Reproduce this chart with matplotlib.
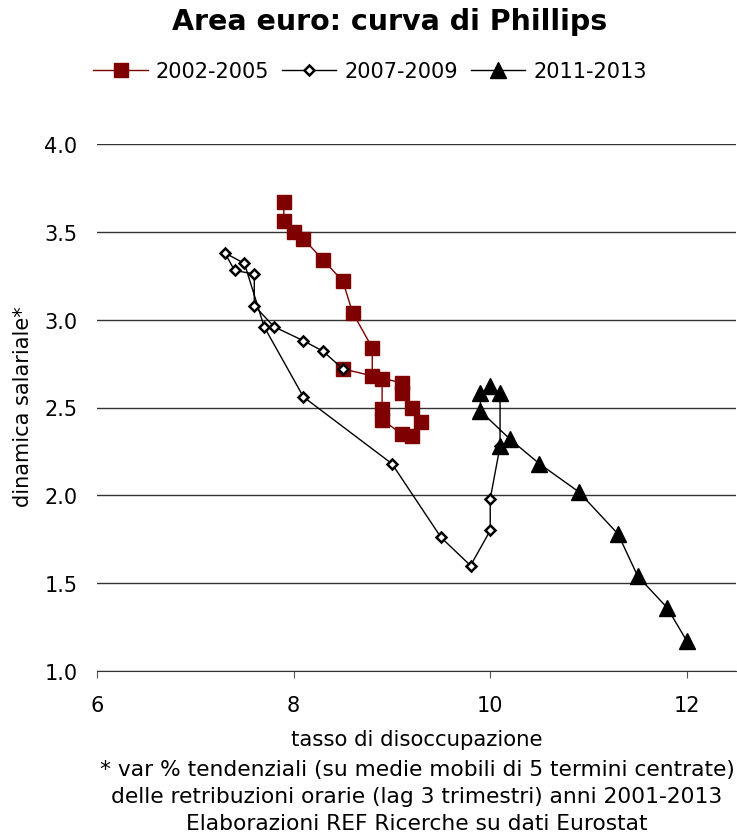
import matplotlib
matplotlib.use("Agg")
import matplotlib.pyplot as plt
from matplotlib.lines import Line2D

# Data (tasso di disoccupazione, dinamica salariale)
x_0205 = [7.9, 7.9, 8.0, 8.1, 8.3, 8.5, 8.6, 8.8, 8.8, 8.9, 8.9, 8.9, 9.1, 9.2, 9.3, 9.2, 9.1, 9.1, 8.5]
y_0205 = [3.67, 3.56, 3.50, 3.46, 3.34, 3.22, 3.04, 2.84, 2.68, 2.66, 2.49, 2.43, 2.35, 2.34, 2.42, 2.50, 2.58, 2.64, 2.72]

x_0709 = [8.5, 8.3, 8.1, 7.8, 7.6, 7.6, 7.4, 7.3, 7.5, 7.7, 8.1, 9.0, 9.5, 9.8, 10.0, 10.0, 10.1]
y_0709 = [2.72, 2.82, 2.88, 2.96, 3.08, 3.26, 3.28, 3.38, 3.32, 2.96, 2.56, 2.18, 1.76, 1.60, 1.80, 1.98, 2.28]

x_1113 = [10.1, 10.1, 10.0, 9.9, 9.9, 10.2, 10.5, 10.9, 11.3, 11.5, 11.8, 12.0]
y_1113 = [2.28, 2.58, 2.62, 2.58, 2.48, 2.32, 2.18, 2.02, 1.78, 1.54, 1.36, 1.17]

labels = ["2002-2005", "2007-2009", "2011-2013"]
x_ticks = [6, 8, 10, 12]
y_ticks = [1.0, 1.5, 2.0, 2.5, 3.0, 3.5, 4.0]

plt.rcParams['font.family'] = ['DejaVu Sans']

fig = plt.figure(figsize=(7.37, 8.37), dpi=100)
ax = fig.add_axes([97/737, 1-672/837, (736-97)/737, (672-145)/837])

red = '#7f0000'
ax.plot(x_0205, y_0205, color=red, lw=1, marker='s', ms=10.5, mfc=red, mec=red,
        label=labels[0], zorder=3)
ax.plot(x_0709, y_0709, color='black', lw=1, marker='D', ms=5.5, mfc='white', mec='black',
        mew=1.8, label=labels[1], zorder=4)
ax.plot(x_1113, y_1113, color='black', lw=1, marker='^', ms=12, mfc='black', mec='black',
        label=labels[2], zorder=5)

ax.set_xlim(6, 12.5)
ax.set_ylim(1.0, 4.0)
ax.set_xticks(x_ticks)
ax.set_yticks(y_ticks)
ax.set_yticklabels([f"{v:.1f}" for v in y_ticks])
ax.yaxis.grid(True, color='#333333', lw=1)
ax.set_axisbelow(True)
for s in ['top', 'right', 'left']:
    ax.spines[s].set_visible(False)
ax.spines['bottom'].set_color('#333333')
ax.tick_params(axis='y', length=0, labelsize=15, pad=14)
ax.tick_params(axis='x', length=5, direction='out', color='#555555', labelsize=15, pad=12)

ax.set_xlabel("tasso di disoccupazione", fontsize=15.3, labelpad=10)
fig.text(23/737, 1-407/837, "dinamica salariale*", rotation=90, ha='center', va='center',
         fontsize=15)

fig.text(390/737, 1-22/837, "Area euro: curva di Phillips", ha='center', va='center',
         fontsize=20.5, fontweight='bold')

foot = ["* var % tendenziali (su medie mobili di 5 termini centrate)",
        "delle retribuzioni orarie (lag 3 trimestri) anni 2001-2013",
        "Elaborazioni REF Ricerche su dati Eurostat"]
for i, t in enumerate(foot):
    fig.text(417/737, 1-(770+27*i)/837, t, ha='center', va='center', fontsize=15.7)

handles = [
    Line2D([], [], color=red, lw=1, marker='s', ms=10.5, mfc=red, mec=red),
    Line2D([], [], color='black', lw=1, marker='D', ms=5.5, mfc='white', mec='black', mew=1.8),
    Line2D([], [], color='black', lw=1, marker='^', ms=12, mfc='black', mec='black'),
]
fig.legend(handles, labels, loc='center', bbox_to_anchor=(370/737, 1-72/837), ncol=3,
           frameon=False, fontsize=15, handlelength=2.6, columnspacing=0.6, handletextpad=0.4)

fig.savefig("out.png", dpi=100)
